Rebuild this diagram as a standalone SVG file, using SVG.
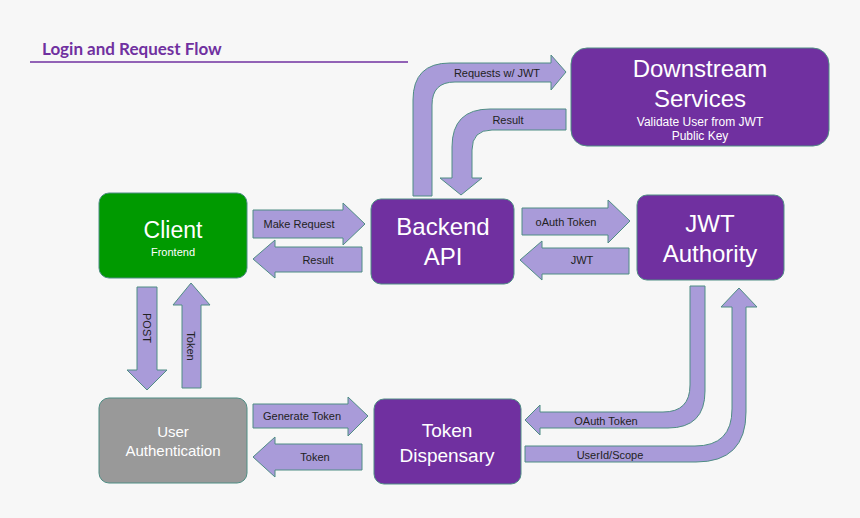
<svg xmlns="http://www.w3.org/2000/svg" width="860" height="518" viewBox="0 0 860 518">
<style>
.arr{fill:#a99bd9;stroke:#4f8d84;stroke-width:1}
.lbl{font-family:"Liberation Sans",Arial,sans-serif;font-size:11px;fill:#222;text-anchor:middle}
.nt{font-family:"Liberation Sans",Arial,sans-serif;fill:#fff;text-anchor:middle}
.pur{fill:#7030a0;stroke:#4f8d84;stroke-width:1}
</style>
<rect width="860" height="518" fill="#f7f7f7"/>
<text x="42" y="55" font-family="Lato,'Open Sans',sans-serif" font-weight="bold" font-size="17" fill="#7030a0">Login and Request Flow</text>
<line x1="30" y1="62" x2="408" y2="62" stroke="#7030a0" stroke-width="1.5"/>
<g id="connectors">
<path class="arr" d="M253,210 L343,210 L343,203 L365,224 L343,245 L343,238 L253,238 Z"/>
<text class="lbl" x="299" y="228">Make Request</text>
<path class="arr" d="M362,247 L275,247 L275,240 L253,259 L275,278 L275,272 L362,272 Z"/>
<text class="lbl" x="318" y="264">Result</text>
<path class="arr" d="M522,208 L608,208 L608,200 L630,221 L608,243 L608,235 L522,235 Z"/>
<text class="lbl" x="566" y="226">oAuth Token</text>
<path class="arr" d="M629,248 L542,248 L542,241 L520,260 L542,280 L542,274 L629,274 Z"/>
<text class="lbl" x="582" y="264">JWT</text>
<path class="arr" d="M413,196 L413,100 Q413,63 450,63 L551,63 L551,55 L566,72 L551,90 L551,82 L455,82 Q432,82 432,105 L432,196 Z"/>
<text class="lbl" x="497" y="77">Requests w/ JWT</text>
<path class="arr" d="M566,109 L490,109 Q452,109 452,147 L452,178 L440,178 L461,195 L482,178 L472,178 L472,150 Q472,130 492,130 L566,130 Z"/>
<text class="lbl" x="508" y="124">Result</text>
<path class="arr" d="M137,287 L157,287 L157,370 L167,370 L147,390 L127,370 L137,370 Z"/>
<text class="lbl" transform="translate(143,328) rotate(90)">POST</text>
<path class="arr" d="M182,388 L201,388 L201,305 L210,305 L191,283 L173,305 L182,305 Z"/>
<text class="lbl" transform="translate(187,346) rotate(90)">Token</text>
<path class="arr" d="M253,404 L348,404 L348,397 L368,416 L348,436 L348,428 L253,428 Z"/>
<text class="lbl" x="302" y="420">Generate Token</text>
<path class="arr" d="M362,444 L275,444 L275,437 L253,457 L275,477 L275,470 L362,470 Z"/>
<text class="lbl" x="315" y="461">Token</text>
<path class="arr" d="M690,286 L690,385 Q690,412 663,412 L540,412 L540,405 L525,420 L540,435 L540,428 L668,428 Q705,428 705,391 L705,286 Z"/>
<text class="lbl" x="606" y="425">OAuth Token</text>
<path class="arr" d="M525,446 L695,446 Q732,446 732,409 L732,307 L721,307 L739,288 L757,307 L746,307 L746,412 Q746,462 696,462 L525,462 Z"/>
<text class="lbl" x="610" y="459">UserId/Scope</text>
</g>
<g id="client"><rect x="99" y="193" width="148" height="85" rx="10" fill="#009a00" stroke="#4f8d84"/>
<text class="nt" x="173" y="238" font-size="23">Client</text><text class="nt" x="173" y="256" font-size="11">Frontend</text></g>
<g id="backend"><rect class="pur" x="371" y="199" width="143" height="85" rx="10"/>
<text class="nt" x="443" y="235" font-size="24">Backend</text><text class="nt" x="443" y="265" font-size="24">API</text></g>
<g id="jwt"><rect class="pur" x="637" y="195" width="147" height="85" rx="10"/>
<text class="nt" x="710" y="232" font-size="24">JWT</text><text class="nt" x="710" y="262" font-size="24">Authority</text></g>
<g id="downstream"><rect class="pur" x="571" y="48" width="258" height="98" rx="16"/>
<text class="nt" x="700" y="77" font-size="24">Downstream</text><text class="nt" x="700" y="107" font-size="24">Services</text>
<text class="nt" x="700" y="126" font-size="12">Validate User from JWT</text><text class="nt" x="700" y="140" font-size="12">Public Key</text></g>
<g id="userauth"><rect x="99" y="398" width="148" height="85" rx="10" fill="#999" stroke="#4f8d84"/>
<text class="nt" x="173" y="437" font-size="15">User</text><text class="nt" x="173" y="456" font-size="15">Authentication</text></g>
<g id="tokendisp"><rect class="pur" x="374" y="399" width="147" height="85" rx="10"/>
<text class="nt" x="447" y="437" font-size="19">Token</text><text class="nt" x="447" y="462" font-size="19">Dispensary</text></g>
</svg>
